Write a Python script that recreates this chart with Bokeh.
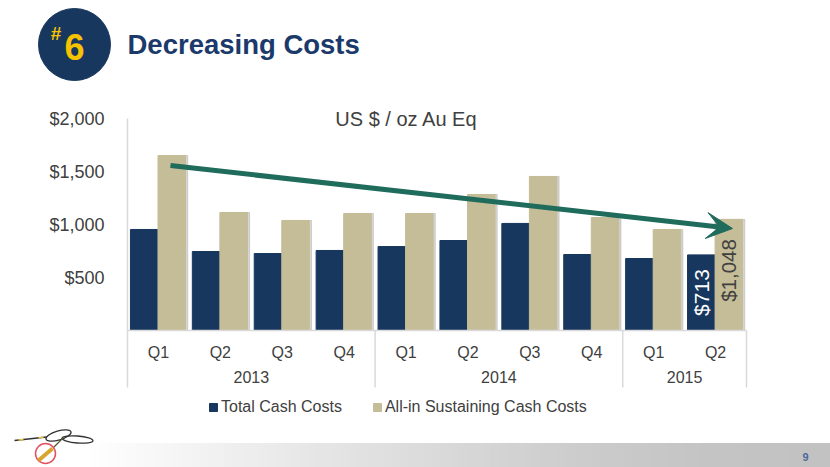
from bokeh.plotting import figure
from bokeh.layouts import column
from bokeh.models import (ColumnDataSource, FactorRange, Range1d, NumeralTickFormatter, FixedTicker,
                          Legend, LegendItem, Arrow, VeeHead)
from bokeh.core.properties import value
from bokeh.transform import dodge
from bokeh.embed import file_html
from bokeh.resources import INLINE
import math

years = ["2013"] * 4 + ["2014"] * 4 + ["2015"] * 2
quarters = ["Q1", "Q2", "Q3", "Q4", "Q1", "Q2", "Q3", "Q4", "Q1", "Q2"]
total_cash = [953, 745, 726, 755, 792, 849, 1010, 717, 679, 713]
all_in = [1651, 1113, 1038, 1104, 1104, 1283, 1453, 1066, 953, 1048]
y_ticks = [500, 1000, 1500, 2000]

NAVY = "#17375e"
TAN = "#c4bd97"
TEXT = "#404040"
GRID = "#d9d9d9"
W, H = 830, 467
L, R, T, B = 127, 746, 118, 330  # frame edges on the page

factors = list(zip(years, quarters))
src = ColumnDataSource(dict(x=factors, total=total_cash, allin=all_in))

p = figure(width=W, height=H, output_backend="svg", toolbar_location=None,
           x_range=FactorRange(*factors, factor_padding=0, group_padding=0, range_padding=0),
           y_range=Range1d(0, 2000), frame_align=False,
           min_border_left=L, min_border_right=W - R, min_border_top=T, min_border_bottom=H - B,
           background_fill_alpha=0, border_fill_alpha=0)
p.outline_line_color = None
p.grid.visible = False

p.yaxis.ticker = FixedTicker(ticks=y_ticks)
p.yaxis.formatter = NumeralTickFormatter(format="$0,0")
p.yaxis.major_label_text_font = "Liberation Sans"
p.yaxis.major_label_text_font_size = "18px"
p.yaxis.major_label_text_color = TEXT
p.yaxis.major_tick_line_color = None
p.yaxis.minor_tick_line_color = None
p.yaxis.axis_line_color = GRID
p.yaxis.axis_line_width = 1.5
p.yaxis.major_label_standoff = 17

ax = p.xaxis[0]
ax.major_tick_line_color = None
ax.axis_line_color = GRID
ax.axis_line_width = 1.5
ax.major_label_text_font = "Liberation Sans"
ax.major_label_text_font_size = "16px"
ax.major_label_text_color = TEXT
ax.major_label_orientation = "horizontal"
ax.group_text_font = "Liberation Sans"
ax.group_text_font_size = "16px"
ax.group_text_font_style = "normal"
ax.group_text_color = TEXT
ax.separator_line_color = None
ax.major_label_standoff = 7

# soft shadows, then the bars
p.vbar(x=dodge("x", -0.195, range=p.x_range), top="total", width=0.445, source=src, color="#a6a6a6", alpha=0.45)
p.vbar(x=dodge("x", 0.25, range=p.x_range), top="allin", width=0.445, source=src, color="#a6a6a6", alpha=0.45)
p.vbar(x=dodge("x", -0.23, range=p.x_range), top="total", width=0.445, source=src, color=NAVY)
p.vbar(x=dodge("x", 0.215, range=p.x_range), top="allin", width=0.445, source=src, color=TAN)

lab_src = ColumnDataSource(dict(x=[factors[-1]], t1=[f"${total_cash[-1]:,}"], t2=[f"${all_in[-1]:,}"], y1=[358], y2=[566]))
p.text(x=dodge("x", -0.23, range=p.x_range), y="y1", text="t1", source=lab_src, angle=math.pi / 2,
       text_color="white", text_font=value("Liberation Sans"), text_font_size="21px",
       text_align="center", text_baseline="middle")
p.text(x=dodge("x", 0.215, range=p.x_range), y="y2", text="t2", source=lab_src, angle=math.pi / 2,
       text_color=TEXT, text_font=value("Liberation Sans"), text_font_size="20.5px",
       text_align="center", text_baseline="middle")

# full-window layer with the slide's furniture
d = figure(width=W, height=H, output_backend="svg", toolbar_location=None,
           x_range=Range1d(0, W), y_range=Range1d(H, 0), min_border=0, frame_align=False,
           background_fill_alpha=0, border_fill_alpha=0, x_axis_location=None, y_axis_location=None,
           styles={"position": "absolute", "left": "0px", "top": "0px", "z-index": "5"})
d.outline_line_color = None
d.grid.visible = False

band_x = [90, 200, 300, 400, 500, 600, 700, 830]
band_g = [255, 243, 232, 222, 212, 203, 197, 194]
for i in range(len(band_x) - 1):
    n = 12
    for k in range(n):
        g = int(band_g[i] + (band_g[i + 1] - band_g[i]) * (k + 0.5) / n)
        x0 = band_x[i] + (band_x[i + 1] - band_x[i]) * k / n
        x1 = band_x[i] + (band_x[i + 1] - band_x[i]) * (k + 1) / n + 0.5
        d.quad(left=x0, right=x1, top=443, bottom=467, color=f"#{g:02x}{g:02x}{g:02x}")


def lab(text, x, y, size, color, style="normal", align="left"):
    d.text(x=[x], y=[y], text=[text], text_font=value("Liberation Sans"), text_font_size=size, text_color=color,
           text_font_style=style, text_align=align, text_baseline="middle")


d.circle(x=[74], y=[44], radius=36, color=NAVY)
lab("6", 74, 46, "36px", "#f7c200", "bold", "center")
lab("#", 55.5, 32.5, "19px", "#f7c200", "bold", "center")
lab("Decreasing Costs", 127, 44, "27.5px", "#1b3a6b", "bold")
lab("US $ / oz Au Eq", 406, 118, "20px", TEXT, "normal", "center")
lab("9", 805, 456, "11px", "#4a6a9a", "bold", "center")

# separators of the category axis, at the year boundaries
step = (R - L) / len(factors)
seps = [0, years.count("2013"), years.count("2013") + years.count("2014"), len(factors)]
for n in seps:
    sx = L + n * step
    d.segment(x0=[sx], y0=[B], x1=[sx], y1=[387], line_color=GRID, line_width=1.5)

d.add_layout(Arrow(x_start=170, y_start=165, x_end=732, y_end=228, line_color="#1f6b5c", line_width=5,
                   end=VeeHead(size=26, fill_color="#1f6b5c", line_color="#1f6b5c", line_width=1)))

# legend keys (drawn off the canvas; only their swatches show in the legend)
k1 = d.quad(left=[-30], right=[-20], top=[-30], bottom=[-20], color=NAVY)
k2 = d.quad(left=[-30], right=[-20], top=[-30], bottom=[-20], color=TAN)
d.add_layout(Legend(items=[LegendItem(label="Total Cash Costs", renderers=[k1]),
                           LegendItem(label="All-in Sustaining Cash Costs", renderers=[k2])],
                    orientation="horizontal", location=(208, 51), border_line_color=None, background_fill_alpha=0,
                    label_text_font="Liberation Sans", label_text_font_size="16px", label_text_color=TEXT,
                    glyph_width=10, glyph_height=10, spacing=30, label_standoff=3, padding=0, margin=0))

# signature mark
d.segment(x0=[14], y0=[440], x1=[46], y1=[436.5], line_color="#333333", line_width=1.3)
d.segment(x0=[18, 38], y0=[439.5, 437.2], x1=[23, 43], y1=[439, 436.8], line_color="#e8c44a", line_width=1.5)
d.ellipse(x=[58], y=[435], width=26, height=9, angle=0.28, fill_alpha=0, line_color="#333333", line_width=1.3)
d.ellipse(x=[77], y=[439], width=31, height=7, angle=-0.08, fill_alpha=0, line_color="#333333", line_width=1.3)
d.segment(x0=[63], y0=[437], x1=[50], y1=[450], line_color="#555533", line_width=1.3)
d.circle(x=[45], y=[453], radius=10, fill_color="white", line_color="#e2505f", line_width=1.5)
d.segment(x0=[38], y0=[460], x1=[52], y1=[448], line_color="#d9a52e", line_width=4)

open("out.html", "w").write(file_html(column(d, p), INLINE))
